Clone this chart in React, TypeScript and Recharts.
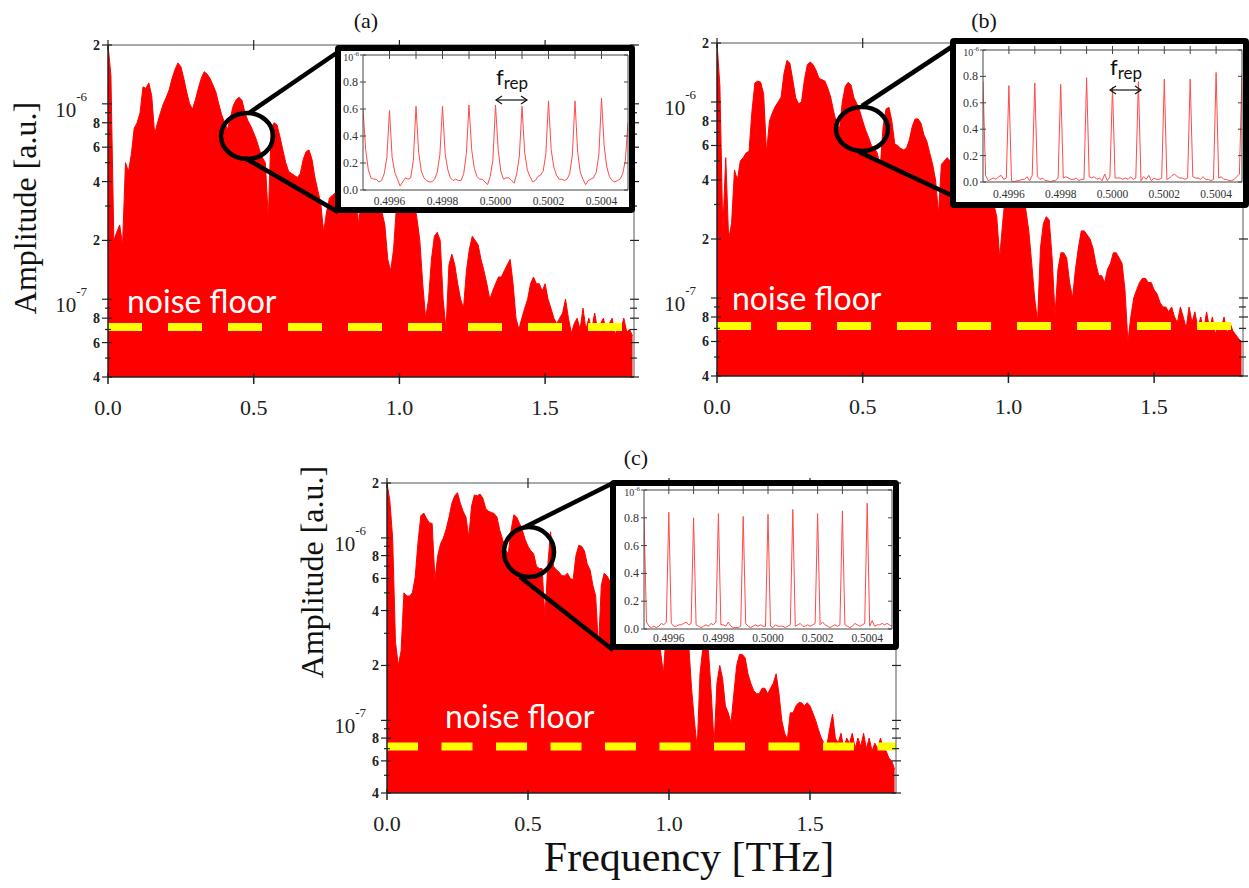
import React from 'react';
import { ComposedChart, Area, XAxis, YAxis, ReferenceLine, LineChart, Line } from 'recharts';

// frequency grid of the spectra, THz
const FREQ = Array.from({ length: 181 }, (_, i) => i / 100);

// spectral amplitude, in units of 1e-8 a.u.
const AMP_A = [
  200, 140, 20, 22, 24, 19, 50, 45, 55, 75,
  80, 90, 122, 120, 128, 110, 70, 80, 90, 100,
  108, 118, 135, 150, 162, 155, 135, 115, 100, 94,
  105, 120, 135, 146, 142, 135, 125, 115, 100, 88,
  80, 74, 85, 98, 105, 108, 104, 90, 82, 77,
  71, 65, 58, 53, 50, 26, 75, 80, 78, 68,
  58, 50, 45, 44, 43, 42, 44, 52, 57, 58,
  52, 42, 36, 31, 22, 28, 33, 34, 35, 36,
  38, 37, 40, 42, 40, 36, 24, 34, 36, 38,
  36, 33, 32, 30, 28, 24, 16, 14, 18, 30,
  38, 42, 44, 42, 38, 32, 26, 20, 12, 8,
  10, 16, 21, 22, 20, 10, 7, 15, 17, 15,
  12, 10, 9, 14, 18, 21, 20, 19, 16, 14,
  12, 10, 11, 12, 13, 13, 14, 15, 16, 12,
  8, 7, 8, 9, 10, 12, 13, 12, 12, 11,
  12, 10, 9, 8, 7.5, 8, 8.5, 10, 8, 6.7,
  7.5, 8, 7, 9, 7, 8, 7, 8.5, 7, 7.5,
  8, 6.8, 7.5, 8, 6.5, 7.5, 7, 8, 6.8, 7,
  6.5,
];

const AMP_B = [
  200, 120, 22, 52, 20, 24, 45, 40, 50, 52,
  55, 56, 90, 125, 128, 126, 110, 55, 80, 88,
  95, 100, 106, 140, 163, 158, 130, 105, 98, 100,
  130, 155, 160, 155, 145, 132, 130, 128, 118, 106,
  90, 78, 72, 100, 120, 126, 122, 105, 98, 90,
  80, 72, 66, 60, 58, 55, 46, 75, 92, 94,
  80, 61, 60, 58, 57, 58, 64, 75, 82, 82,
  78, 68, 63, 55, 48, 40, 27, 48, 50, 52,
  50, 45, 42, 44, 46, 44, 40, 42, 40, 38,
  42, 40, 36, 34, 32, 30, 26, 16, 24, 34,
  40, 44, 45, 42, 38, 34, 28, 22, 15, 10,
  7.6, 18, 24, 26, 25, 16, 8.2, 14, 17, 17,
  16, 12, 10, 14, 18, 22, 22, 21, 20, 18,
  15, 13, 13, 12, 14, 15, 17, 17, 16, 15,
  11, 6, 8, 10, 11, 12, 12.6, 12.6, 12, 12,
  11, 10.5, 9.5, 9, 9, 8.5, 9, 8, 7.5, 9,
  8, 7, 9, 7.5, 8.5, 7, 8, 6.8, 8.5, 7,
  8, 6.5, 7.5, 7, 8, 6.5, 7.5, 6.8, 6.5, 6.2,
  6,
];

const AMP_C = [
  200, 160, 100, 27, 20, 24, 50, 48, 48, 50,
  61, 95, 132, 137, 128, 121, 120, 59, 80, 93,
  100, 112, 130, 155, 170, 177, 155, 140, 130, 101,
  150, 172, 170, 174, 165, 145, 140, 138, 136, 130,
  110, 98, 86, 82, 110, 134, 130, 120, 110, 98,
  90, 85, 82, 70, 68, 68, 37, 70, 108, 70,
  67, 65, 62, 62, 64, 60, 59, 80, 91, 90,
  85, 72, 67, 55, 48, 25, 55, 64, 62, 58,
  55, 50, 48, 50, 48, 45, 44, 42, 40, 42,
  40, 38, 36, 34, 32, 30, 28, 24, 18, 30,
  38, 42, 44, 42, 40, 36, 32, 26, 15, 10,
  7, 18, 25, 26, 24, 14, 7.3, 16, 20, 17,
  12, 11, 9.7, 14, 20, 23, 23, 22, 18, 16,
  14.6, 14, 14, 15, 15, 14, 15, 16, 18, 14,
  10, 8.5, 7.9, 11, 11, 12, 12.5, 12.5, 12, 12.5,
  12, 11, 10, 8.9, 8, 7.5, 7.3, 9, 10.8, 8,
  7.5, 8.5, 7, 8, 7.5, 8.5, 7, 8, 7.2, 8.5,
  7, 8, 6.8, 7.5, 7, 8, 7, 6.8, 6.2, 6,
  5.4,
];

const NOISE_FLOOR = 7.2;

// zoomed comb around 0.5 THz, frequency in THz, amplitude in 1e-6 a.u.
const INSET_FREQ = Array.from({ length: 101 }, (_, i) => 0.4995 + i * 0.00001);

const INSET_A = [
  0.6, 0.3, 0.15, 0.09, 0.08, 0.08, 0.06, 0.07, 0.12, 0.24,
  0.59, 0.24, 0.13, 0.08, 0.03, 0.06, 0.09, 0.08, 0.09, 0.22,
  0.62, 0.28, 0.14, 0.09, 0.07, 0.06, 0.06, 0.08, 0.13, 0.26,
  0.62, 0.27, 0.15, 0.09, 0.07, 0.08, 0.07, 0.07, 0.12, 0.27,
  0.63, 0.3, 0.16, 0.1, 0.08, 0.08, 0.06, 0.04, 0.1, 0.22,
  0.63, 0.3, 0.14, 0.08, 0.09, 0.09, 0.07, 0.05, 0.12, 0.25,
  0.62, 0.28, 0.15, 0.1, 0.06, 0.07, 0.1, 0.11, 0.14, 0.27,
  0.66, 0.3, 0.17, 0.11, 0.08, 0.08, 0.07, 0.08, 0.12, 0.26,
  0.66, 0.28, 0.13, 0.08, 0.04, 0.07, 0.08, 0.09, 0.13, 0.26,
  0.68, 0.33, 0.17, 0.1, 0.07, 0.06, 0.07, 0.08, 0.12, 0.22,
  0.5,
];

const INSET_B = [
  0.76, 0.05, 0.01, 0.02, 0.03, 0.02, 0.04, 0.05, 0.02, 0.03,
  0.73, 0.01, 0.0, 0.01, 0.01, 0.02, 0.02, 0.04, 0.01, 0.05,
  0.75, 0.04, 0.02, 0.03, 0.01, 0.01, 0.0, 0.01, 0.01, 0.03,
  0.74, 0.03, 0.04, 0.03, 0.02, 0.02, 0.03, 0.01, 0.02, 0.02,
  0.79, 0.04, 0.03, 0.04, 0.02, 0.03, 0.01, 0.06, 0.01, 0.04,
  0.72, 0.03, 0.03, 0.03, 0.02, 0.03, 0.02, 0.04, 0.02, 0.03,
  0.76, 0.01, 0.04, 0.02, 0.05, 0.01, 0.03, 0.02, 0.02, 0.03,
  0.78, 0.02, 0.03, 0.05, 0.06, 0.04, 0.03, 0.03, 0.02, 0.03,
  0.78, 0.04, 0.03, 0.03, 0.02, 0.04, 0.02, 0.02, 0.01, 0.02,
  0.83, 0.03, 0.04, 0.02, 0.02, 0.01, 0.01, 0.02, 0.04, 0.06,
  0.82,
];

const INSET_C = [
  0.81, 0.05, 0.02, 0.01, 0.02, 0.01, 0.02, 0.04, 0.03, 0.05,
  0.84, 0.04, 0.02, 0.02, 0.03, 0.03, 0.04, 0.05, 0.03, 0.04,
  0.8, 0.03, 0.02, 0.01, 0.02, 0.03, 0.02, 0.04, 0.03, 0.05,
  0.83, 0.03, 0.03, 0.02, 0.05, 0.02, 0.01, 0.01, 0.01, 0.02,
  0.81, 0.04, 0.02, 0.01, 0.02, 0.03, 0.02, 0.03, 0.02, 0.02,
  0.825, 0.02, 0.01, 0.03, 0.02, 0.02, 0.02, 0.01, 0.02, 0.03,
  0.86, 0.02, 0.03, 0.04, 0.02, 0.02, 0.03, 0.02, 0.03, 0.04,
  0.83, 0.03, 0.05, 0.03, 0.02, 0.01, 0.02, 0.03, 0.02, 0.03,
  0.85, 0.03, 0.02, 0.01, 0.02, 0.04, 0.03, 0.02, 0.03, 0.04,
  0.905, 0.02, 0.06, 0.02, 0.03, 0.03, 0.04, 0.03, 0.04, 0.03,
  0.02,
];

const X_MAX = 1.805;
const X_TICKS = [0, 0.5, 1, 1.5];
const Y_TICKS = [4, 5, 6, 7, 8, 9, 10, 20, 30, 40, 50, 60, 70, 80, 90, 100, 200];
const Y_TICK_LABELS = ['4', '', '6', '', '8', '', '-7', '2', '', '4', '', '6', '', '8', '', '-6', '2'];

const INSET_X_TICKS = [0.4996, 0.4997, 0.4998, 0.4999, 0.5, 0.5001, 0.5002, 0.5003, 0.5004];
const INSET_X_LABELS = [0.4996, 0.4998, 0.5, 0.5002, 0.5004];
const INSET_Y_TICKS = [0, 0.2, 0.4, 0.6, 0.8, 1];

const SERIF = "'Liberation Serif', 'Times New Roman', serif";
const INK = '#222';

const leftTick = (p: any) => {
  const { x, y, payload } = p;
  const lab = Y_TICK_LABELS[Y_TICKS.indexOf(payload.value)] || '';
  const major = lab !== '';
  const decade = lab.startsWith('-');
  return (
    <g>
      <line x1={x - (major ? 6 : 3)} x2={x + (major ? 4 : 3)} y1={y} y2={y} stroke={INK} strokeWidth={1.2} />
      {decade ? (
        <text x={x - 21} y={y + 13} textAnchor="end" fontFamily={SERIF} fontSize={21} fill={INK}>
          10<tspan dy={-16} fontSize={13}>{lab}</tspan>
        </text>
      ) : major ? (
        <text x={x - 8} y={y + 5} textAnchor="end" fontFamily={SERIF} fontSize={14} fontWeight="bold" fill={INK}>
          {lab}
        </text>
      ) : null}
    </g>
  );
};

const rightTick = (p: any) => {
  const { x, y, payload } = p;
  const major = (Y_TICK_LABELS[Y_TICKS.indexOf(payload.value)] || '') !== '';
  return <line x1={x - 4} x2={x + (major ? 5 : 3)} y1={y} y2={y} stroke={INK} strokeWidth={1.2} />;
};

const bottomTick = (p: any) => {
  const { x, y, payload } = p;
  return (
    <g>
      <line x1={x} x2={x} y1={y - 4} y2={y + 7} stroke={INK} strokeWidth={1.5} />
      <text x={x} y={y + 38} textAnchor="middle" fontFamily={SERIF} fontSize={22} fill={INK}>
        {payload.value.toFixed(1)}
      </text>
    </g>
  );
};

const topTick = (p: any) => (
  <line x1={p.x} x2={p.x} y1={p.y - 5} y2={p.y + 5} stroke={INK} strokeWidth={1.2} />
);

type Box = { left: number; top: number; w: number; h: number };
type Plot = { left: number; top: number; right: number; bottom: number };

function SpectrumPanel({ amps, box, plot, dash }: { amps: number[]; box: Box; plot: Plot; dash: string }) {
  const data = FREQ.map((f, i) => ({ f, amp: amps[i] }));
  const margin = {
    left: plot.left - box.left - 60,
    top: plot.top - box.top - 1,
    right: box.left + box.w - plot.right - 1,
    bottom: box.top + box.h - plot.bottom - 40,
  };
  return (
    <div style={{ position: 'absolute', left: box.left, top: box.top }}>
      <ComposedChart width={box.w} height={box.h} data={data} margin={margin}>
        <XAxis xAxisId="b" dataKey="f" type="number" domain={[0, X_MAX]} ticks={X_TICKS} allowDataOverflow
          height={40} tickSize={0} tickMargin={0} interval={0}
          axisLine={{ stroke: INK, strokeWidth: 1.5 }} tick={bottomTick} />
        <XAxis xAxisId="t" orientation="top" dataKey="f" type="number" domain={[0, X_MAX]} ticks={X_TICKS}
          allowDataOverflow height={1} tickSize={0} tickMargin={0} interval={0}
          axisLine={{ stroke: '#555' }} tick={topTick} />
        <YAxis yAxisId="l" scale="log" domain={[4, 200]} ticks={Y_TICKS} allowDataOverflow width={60}
          tickSize={0} tickMargin={0} interval={0} axisLine={{ stroke: INK, strokeWidth: 1.5 }} tick={leftTick} />
        <YAxis yAxisId="r" orientation="right" scale="log" domain={[4, 200]} ticks={Y_TICKS} allowDataOverflow
          width={1} tickSize={0} tickMargin={0} interval={0} axisLine={{ stroke: '#555' }} tick={rightTick} />
        <Area xAxisId="b" yAxisId="l" dataKey="amp" type="linear" baseValue={4} stroke="#ff0000" strokeWidth={1}
          fill="#ff0000" fillOpacity={1} dot={false} activeDot={false} isAnimationActive={false} />
        <ReferenceLine xAxisId="b" yAxisId="l" y={NOISE_FLOOR} stroke="#ffff00" strokeWidth={8} strokeDasharray={dash} />
      </ComposedChart>
    </div>
  );
}

function InsetPanel({ vals, box, plot, labelDy }: { vals: number[]; box: Box; plot: Plot; labelDy: number }) {
  const B = 6;
  const data = INSET_FREQ.map((f, i) => ({ f, v: vals[i] }));
  const cw = box.w - 2 * B;
  const ch = box.h - 2 * B;
  const yw = plot.left - box.left - B;
  const xh = box.top + box.h - B - plot.bottom;
  const margin = { left: 0, top: plot.top - box.top - B - 1, right: box.left + box.w - B - plot.right - 1, bottom: 0 };
  const small = { fontFamily: SERIF, fill: '#333' };
  const insetLeft = (p: any) => {
    const { x, y, payload } = p;
    const v = payload.value;
    return (
      <g>
        <line x1={x - 3} x2={x + 3} y1={y} y2={y} stroke="#444" strokeWidth={1} />
        {v === 1 ? (
          <text x={x - 4} y={y + 6} textAnchor="end" fontSize={10} {...small}>
            10<tspan dy={-5} fontSize={7}>-6</tspan>
          </text>
        ) : (
          <text x={x - 5} y={y + 4} textAnchor="end" fontSize={12} {...small}>{v.toFixed(1)}</text>
        )}
      </g>
    );
  };
  const insetRight = (p: any) => <line x1={p.x - 4} x2={p.x} y1={p.y} y2={p.y} stroke="#444" strokeWidth={1} />;
  const insetTop = (p: any) => <line x1={p.x} x2={p.x} y1={p.y - 4} y2={p.y + 4} stroke="#444" strokeWidth={1} />;
  const insetBottom = (p: any) => (
    <text x={p.x} y={p.y + labelDy} textAnchor="middle" fontSize={11.5} {...small}>{p.payload.value.toFixed(4)}</text>
  );
  return (
    <div style={{
      position: 'absolute', left: box.left, top: box.top, width: box.w, height: box.h, boxSizing: 'border-box',
      border: `${B}px solid #000`, borderRadius: 4, background: '#fff', overflow: 'hidden',
    }}>
      <LineChart width={cw} height={ch} data={data} margin={margin}>
        <XAxis xAxisId="b" dataKey="f" type="number" domain={[0.4995, 0.5005]} ticks={INSET_X_LABELS} allowDataOverflow
          height={xh} tickSize={0} tickMargin={0} interval={0} axisLine={{ stroke: '#444' }} tick={insetBottom} />
        <XAxis xAxisId="t" orientation="top" dataKey="f" type="number" domain={[0.4995, 0.5005]} ticks={INSET_X_TICKS}
          allowDataOverflow height={1} tickSize={0} tickMargin={0} interval={0} axisLine={{ stroke: '#444' }} tick={insetTop} />
        <YAxis yAxisId="l" type="number" domain={[0, 1]} ticks={INSET_Y_TICKS} allowDataOverflow width={yw}
          tickSize={0} tickMargin={0} interval={0} axisLine={{ stroke: '#444' }} tick={insetLeft} />
        <YAxis yAxisId="r" orientation="right" type="number" domain={[0, 1]} ticks={INSET_Y_TICKS} allowDataOverflow
          width={1} tickSize={0} tickMargin={0} interval={0} axisLine={{ stroke: '#444' }} tick={insetRight} />
        <Line xAxisId="b" yAxisId="l" dataKey="v" type="linear" stroke="#ff4a4a" strokeWidth={1} dot={false}
          activeDot={false} isAnimationActive={false} />
      </LineChart>
    </div>
  );
}

function Frep({ x, y }: { x: number; y: number }) {
  const w = 31;
  return (
    <g>
      <text x={x} y={y - 15} fontFamily="Lato, 'Open Sans', sans-serif" fontSize={22} fill="#111">
        f<tspan dy={4} fontSize={17}>rep</tspan>
      </text>
      <line x1={x} x2={x + w} y1={y} y2={y} stroke="#111" strokeWidth={1.2} />
      <polyline points={`${x + 6},${y - 4} ${x},${y} ${x + 6},${y + 4}`} fill="none" stroke="#111" strokeWidth={1.2} />
      <polyline points={`${x + w - 6},${y - 4} ${x + w},${y} ${x + w - 6},${y + 4}`} fill="none" stroke="#111" strokeWidth={1.2} />
    </g>
  );
}

export default function App() {
  const nf = { fontFamily: "Lato, 'Open Sans', sans-serif", fontSize: 32, fill: '#fff' };
  const lbl = { fontFamily: SERIF, fill: '#111' };
  return (
    <div style={{ position: 'absolute', left: 0, top: 0, width: 1249, height: 888, background: '#fff', overflow: 'hidden' }}>
      <SpectrumPanel amps={AMP_A} box={{ left: 0, top: 0, w: 660, h: 440 }}
        plot={{ left: 108, top: 45, right: 634, bottom: 377 }} dash="34 26" />
      <SpectrumPanel amps={AMP_B} box={{ left: 640, top: 0, w: 609, h: 440 }}
        plot={{ left: 717, top: 43, right: 1243, bottom: 376 }} dash="34 26" />
      <SpectrumPanel amps={AMP_C} box={{ left: 280, top: 440, w: 640, h: 420 }}
        plot={{ left: 387, top: 483, right: 896, bottom: 793 }} dash="31 23.5" />

      <InsetPanel vals={INSET_A} box={{ left: 335, top: 45, w: 300, h: 168 }}
        plot={{ left: 363, top: 55, right: 628, bottom: 190 }} labelDy={15} />
      <InsetPanel vals={INSET_B} box={{ left: 950, top: 38, w: 299, h: 170 }}
        plot={{ left: 983, top: 50, right: 1242, bottom: 182 }} labelDy={16} />
      <InsetPanel vals={INSET_C} box={{ left: 610, top: 480, w: 289, h: 170 }}
        plot={{ left: 644, top: 490, right: 892, bottom: 629 }} labelDy={13} />

      <svg width={1249} height={888} style={{ position: 'absolute', left: 0, top: 0, pointerEvents: 'none' }}>
        <g stroke="#000" strokeWidth={4.5} fill="none">
          <ellipse cx={247} cy={136} rx={26} ry={23} />
          <line x1={249} y1={113} x2={338} y2={52} />
          <line x1={245} y1={158} x2={338} y2={212} />
          <ellipse cx={862} cy={129} rx={26} ry={22} />
          <line x1={862} y1={106} x2={953} y2={46} />
          <line x1={859} y1={152} x2={953} y2={196} />
          <ellipse cx={529} cy={552} rx={25} ry={25} />
          <line x1={525} y1={527} x2={613} y2={483} />
          <line x1={520} y1={577} x2={613} y2={650} />
        </g>
        <Frep x={496} y={100} />
        <Frep x={1110} y={90} />

        <text x={127} y={313} {...nf}>noise floor</text>
        <text x={732} y={310} {...nf}>noise floor</text>
        <text x={445} y={728} {...nf}>noise floor</text>

        <text x={366} y={28} textAnchor="middle" fontSize={22} {...lbl}>(a)</text>
        <text x={984} y={28} textAnchor="middle" fontSize={22} {...lbl}>(b)</text>
        <text x={636} y={465} textAnchor="middle" fontSize={22} {...lbl}>(c)</text>

        <text transform="translate(36,208) rotate(-90)" textAnchor="middle" fontSize={32} {...lbl}>Amplitude [a.u.]</text>
        <text transform="translate(323,572) rotate(-90)" textAnchor="middle" fontSize={32} {...lbl}>Amplitude [a.u.]</text>
        <text x={689} y={871} textAnchor="middle" fontSize={42} {...lbl}>Frequency [THz]</text>
      </svg>
    </div>
  );
}
